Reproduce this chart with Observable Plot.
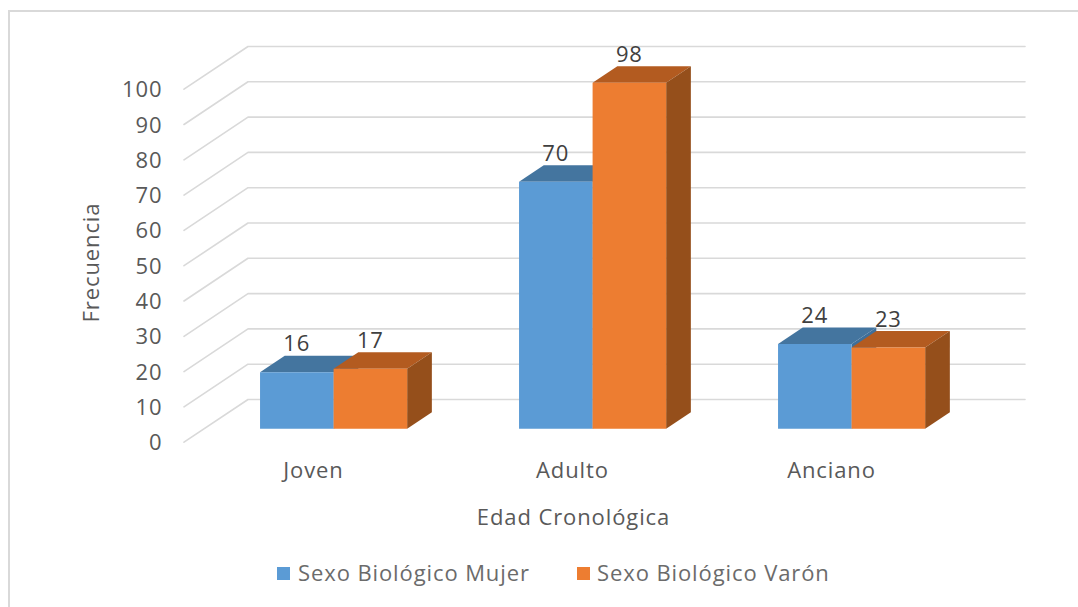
<!DOCTYPE html>
<html><head><meta charset="utf-8">
<script src="https://cdn.jsdelivr.net/npm/d3@7"></script>
<script src="https://cdn.jsdelivr.net/npm/@observablehq/plot@0.6"></script>
<style>
html,body{margin:0;padding:0;background:#fff;overflow:hidden}
#frame{position:absolute;left:8px;top:10px;right:-5px;bottom:-5px;border:2.5px solid #d9d9d9;pointer-events:none}
#chart{position:relative;width:1078px;height:607px;font-family:"Open Sans",sans-serif;color:#595959;letter-spacing:0.9px}
#chart svg{display:block}
#chart svg text{letter-spacing:0.9px}
#legend{position:absolute;top:559px;left:0;width:1078px;height:26px;font-size:22px;line-height:26px;color:#6b6b6b}
#legend span{position:absolute;white-space:nowrap}
#legend i{position:absolute;top:8px;width:13px;height:13px}
</style></head>
<body>
<div id="chart"><div id="frame"></div><div id="legend"></div></div>
<script>
const categories = ["Joven", "Adulto", "Anciano"];
const mujer = [16, 70, 24];
const varon = [17, 98, 23];
const seriesNames = ["Sexo Biológico Mujer", "Sexo Biológico Varón"];
const gridValues = d3.range(0, 101, 10);

// Oblique projection: depth t (0 front wall edge, 1 back wall), expressed in scale units
const DX = 64 / 259, DY = 12.1;
const P = (u, v, t) => ({x: u + t * DX, y: v + t * DY});
const T0 = 0.314, T1 = 0.70, BW = 0.284;

const palettes = [
  {front: "#5b9bd5", top: "#44759f", side: "#3f6f9a"},
  {front: "#ed7d31", top: "#b35b20", side: "#954f1b"}
];

function bar(id, u0, v, pal) {
  const u1 = u0 + BW;
  const face = (name, fill, pts) => pts.map(p => ({...p, id: id + name, fill}));
  return [
    ...face("top", pal.top, [P(u0,v,T0), P(u1,v,T0), P(u1,v,T1), P(u0,v,T1)]),
    ...face("side", pal.side, [P(u1,0,T0), P(u1,v,T0), P(u1,v,T1), P(u1,0,T1)]),
    ...face("front", pal.front, [P(u0,0,T0), P(u1,0,T0), P(u1,v,T0), P(u0,v,T0)])
  ];
}

const faces = [], labels = [];
categories.forEach((c, i) => {
  faces.push(...bar(c + "m", i - BW, mujer[i], palettes[0]));
  faces.push(...bar(c + "v", i, varon[i], palettes[1]));
  labels.push({...P(i - BW / 2, mujer[i], T0), text: String(mujer[i])});
  labels.push({...P(i + BW / 2, varon[i], T0), text: String(varon[i])});
});

const grid = gridValues.flatMap(v => [
  {...P(-0.5, v, 0), v}, {...P(-0.5, v, 1), v}, {...P(2.5, v, 1), v}
]);

const plot = Plot.plot({
  width: 1078, height: 545,
  marginLeft: 170, marginRight: 102, marginTop: 68, marginBottom: 89,
  style: {fontFamily: '"Open Sans",sans-serif', fontSize: "22px", color: "#595959", background: "transparent", overflow: "visible"},
  x: {domain: [0, 2], range: [313, 831]},
  y: {domain: [0, 100], range: [441.7, 88.7]},
  color: {type: "identity"},
  marks: [
    Plot.line(grid, {x: "x", y: "y", z: "v", stroke: "#d9d9d9", strokeWidth: 1.6}),
    Plot.line(faces, {x: "x", y: "y", z: "id", fill: "fill", stroke: "none"}),
    Plot.text(labels, {x: "x", y: "y", text: "text", dy: -28, fill: "#404040", fontSize: 22}),
    Plot.axisY({ticks: gridValues, tickSize: 0, tickPadding: 8, dy: 1, label: "Frecuencia", labelAnchor: "center", labelArrow: "none", labelOffset: 87, fill: "#595959"}),
    Plot.axisX({ticks: [0, 1, 2], tickFormat: i => categories[i], tickSize: 0, tickPadding: 6, label: "Edad Cronológica", labelAnchor: "center", labelArrow: "none", labelOffset: 68, fill: "#595959"})
  ]
});
const chart = document.getElementById("chart");
chart.insertBefore(plot, chart.firstChild);

const legend = document.getElementById("legend");
[[277, 298], [577, 597]].forEach(([sx, tx], i) => {
  const sw = document.createElement("i");
  sw.style.left = sx + "px"; sw.style.background = palettes[i].front;
  const t = document.createElement("span");
  t.style.left = tx + "px"; t.textContent = seriesNames[i];
  legend.append(sw, t);
});
</script>
</body></html>
